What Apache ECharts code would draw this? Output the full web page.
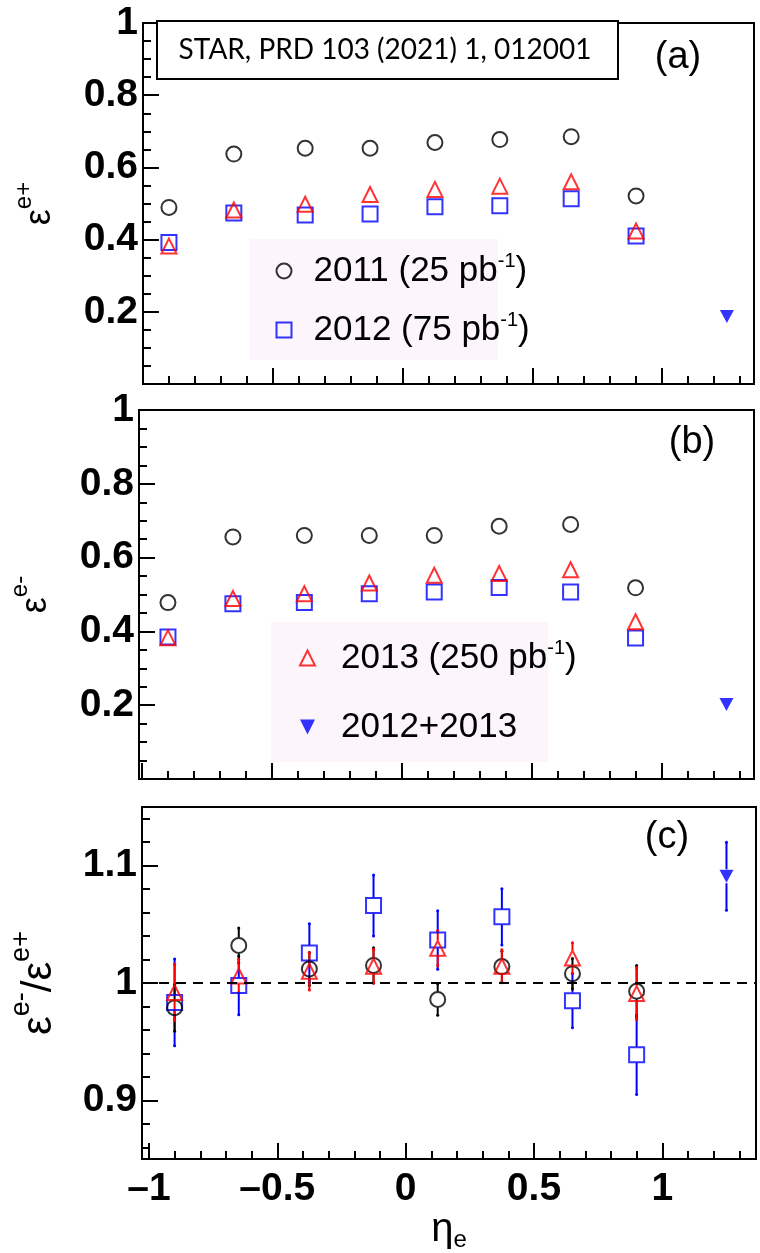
<!DOCTYPE html>
<html>
<head>
<meta charset="utf-8">
<script src="https://cdn.jsdelivr.net/npm/echarts@6/dist/echarts.min.js"></script>
<style>
  html, body { margin: 0; padding: 0; background: #fff; }
  #chart { width: 760px; height: 1253px; }
</style>
</head>
<body>
<div id="chart"></div>
<script>
// Electron pseudorapidity bin centres and the combined forward bin
const etaBins = [-0.9, -0.65, -0.375, -0.125, 0.125, 0.375, 0.65, 0.9];
const etaCombined = 1.25;

// (a) positron efficiency
const effPos2011 = [0.489, 0.637, 0.653, 0.653, 0.669, 0.677, 0.685, 0.521];
const effPos2012 = [0.392, 0.474, 0.468, 0.471, 0.491, 0.494, 0.513, 0.410];
const effPos2013 = [0.382, 0.482, 0.498, 0.525, 0.539, 0.548, 0.560, 0.424];
const effPosCombined = 0.187;

// (b) electron efficiency
const effNeg2011 = [0.478, 0.656, 0.660, 0.660, 0.660, 0.685, 0.690, 0.518];
const effNeg2012 = [0.385, 0.475, 0.478, 0.502, 0.507, 0.519, 0.507, 0.382];
const effNeg2013 = [0.383, 0.489, 0.502, 0.531, 0.552, 0.557, 0.567, 0.426];
const effNegCombined = 0.202;

// (c) ratio e-/e+ with uncertainties
const ratio2011 = [0.979, 1.032, 1.012, 1.015, 0.986, 1.014, 1.008, 0.993];
const ratio2011Err = [0.020, 0.015, 0.014, 0.015, 0.0135, 0.013, 0.013, 0.022];
const ratio2012 = [0.9835, 0.998, 1.0255, 1.066, 1.0367, 1.0564, 0.985, 0.939];
const ratio2012Err = [0.037, 0.025, 0.025, 0.026, 0.025, 0.024, 0.023, 0.034];
const ratio2013 = [0.992, 1.006, 1.010, 1.0143, 1.0297, 1.0143, 1.0213, 0.991];
const ratio2013Err = [0.024, 0.014, 0.016, 0.0145, 0.015, 0.014, 0.013, 0.022];
const ratioCombined = 1.091;
const ratioCombinedErr = 0.029;

// Axis tick labels
const yTicksEff = ['0.2', '0.4', '0.6', '0.8', '1'];
const yTicksRatio = ['0.9', '1', '1.1'];
const xTicks = ['\u20131', '\u20130.5', '0', '0.5', '1'];

// Series names as shown in the legends
const NAME_2011 = '2011 (25 pb-1)';
const NAME_2012 = '2012 (75 pb-1)';
const NAME_2013 = '2013 (250 pb-1)';
const NAME_COMB = '2012+2013';

const FONT = 'Liberation Sans';
const TICK_FONT = 39;
const BLACK = '#000000';
const BLUE = '#0000ff';
const RED = '#ff0000';
const DOWN_TRI = 'path://M0,0 L10,0 L5,10 Z';
const SYM = 15;

const chart = echarts.init(document.getElementById('chart'), null, { renderer: 'canvas' });

function pairs(xs, ys) { return xs.map((x, i) => [x, ys[i]]); }
function triples(xs, ys, es) { return xs.map((x, i) => [x, ys[i], es[i]]); }

function isMultiple(v, step) {
  const r = v / step;
  return Math.abs(r - Math.round(r)) < 1e-6;
}

const hollow = {
  circle: (c) => ({ symbol: 'circle', itemStyle: { color: 'rgba(0,0,0,0)', borderColor: c, borderWidth: 2 } }),
  rect: (c) => ({ symbol: 'rect', itemStyle: { color: 'rgba(0,0,0,0)', borderColor: c, borderWidth: 2 } }),
  triangle: (c) => ({ symbol: 'triangle', itemStyle: { color: 'rgba(0,0,0,0)', borderColor: c, borderWidth: 2 } })
};

function scatter(name, data, style, xi, yi, z) {
  return Object.assign({
    type: 'scatter', name, data, xAxisIndex: xi, yAxisIndex: yi,
    symbolSize: SYM, z: z || 3, silent: true, animation: false
  }, style);
}

function combined(name, value, xi, yi) {
  return {
    type: 'scatter', name, data: [[etaCombined, value]], xAxisIndex: xi, yAxisIndex: yi,
    symbol: DOWN_TRI, symbolSize: [14, 13], itemStyle: { color: BLUE }, z: 5, silent: true, animation: false
  };
}

// Vertical error bars that stop at the marker outline
function errorBars(name, data, color, half, xi, yi) {
  return {
    type: 'custom', name, data, xAxisIndex: xi, yAxisIndex: yi, z: 2, silent: true, animation: false,
    renderItem(params, api) {
      const x = api.value(0), y = api.value(1), e = api.value(2);
      const c = api.coord([x, y]);
      const hi = api.coord([x, y + e]);
      const lo = api.coord([x, y - e]);
      const st = { stroke: color, lineWidth: 2 };
      const kids = [];
      if (c[1] - half > hi[1]) kids.push({ type: 'line', shape: { x1: c[0], y1: hi[1], x2: c[0], y2: c[1] - half }, style: st });
      if (c[1] + half < lo[1]) kids.push({ type: 'line', shape: { x1: c[0], y1: c[1] + half, x2: c[0], y2: lo[1] }, style: st });
      kids.push({ type: 'circle', shape: { cx: c[0], cy: hi[1], r: 1.5 }, style: { fill: color } });
      kids.push({ type: 'circle', shape: { cx: c[0], cy: lo[1], r: 1.5 }, style: { fill: color } });
      return { type: 'group', children: kids };
    }
  };
}

const axisLine = { show: true, onZero: false, lineStyle: { color: BLACK, width: 2 } };
const majorTick = { show: true, inside: true, length: 16, lineStyle: { color: BLACK, width: 2 } };
const tickLabelStyle = { fontFamily: FONT, fontWeight: 'bold', fontSize: TICK_FONT, color: BLACK };

function titleRich(big, small) {
  return {
    g: { fontFamily: FONT, fontSize: big, lineHeight: big + 10, verticalAlign: 'bottom', color: BLACK },
    s: { fontFamily: FONT, fontSize: small, lineHeight: small + 2, verticalAlign: 'top', color: BLACK }
  };
}

function xAxis(grid, min, max, showLabels, extra) {
  return Object.assign({
    type: 'value', gridIndex: grid, min, max, splitNumber: 5, minInterval: 0.5, maxInterval: 0.5,
    axisLine, axisTick: majorTick,
    minorTick: { show: true, splitNumber: 5, length: 8, lineStyle: { color: BLACK, width: 2 } },
    splitLine: { show: false }, minorSplitLine: { show: false },
    axisLabel: Object.assign({
      show: showLabels, margin: 11,
      formatter: (v) => {
        if (!isMultiple(v, 0.5)) return '';
        const i = Math.round((v + 1) / 0.5);
        return xTicks[i] !== undefined ? xTicks[i] : '';
      }
    }, tickLabelStyle)
  }, extra || {});
}

function yAxisEff(grid, title) {
  return {
    type: 'value', gridIndex: grid, min: 0, max: 1, interval: 0.2,
    axisLine, axisTick: majorTick,
    minorTick: { show: true, splitNumber: 4, length: 8, lineStyle: { color: BLACK, width: 2 } },
    splitLine: { show: false },
    axisLabel: Object.assign({
      margin: 5,
      formatter: (v) => {
        const i = Math.round(v / 0.2) - 1;
        return (i >= 0 && isMultiple(v, 0.2)) ? yTicksEff[i] : '';
      }
    }, tickLabelStyle),
    name: title, nameLocation: 'middle', nameRotate: 90, nameGap: 85,
    nameTextStyle: { fontFamily: FONT, color: BLACK, rich: titleRich(36, 24) }
  };
}

const legendText = (pad) => ({
  fontFamily: FONT, fontSize: 35, lineHeight: 40, color: BLACK, padding: [0, 0, 0, pad],
  rich: { sup: { fontFamily: FONT, fontSize: 20, lineHeight: 20, verticalAlign: 'top', color: BLACK } }
});

const option = {
  backgroundColor: '#ffffff',
  animation: false,
  grid: [
    { left: 143, top: 23, width: 611, height: 361, show: true, borderColor: BLACK, borderWidth: 2, backgroundColor: 'transparent' },
    { left: 136, top: 410, width: 618, height: 369, show: true, borderColor: BLACK, borderWidth: 2, backgroundColor: 'transparent' },
    { left: 134, top: 807, width: 622, height: 356, show: true, borderColor: BLACK, borderWidth: 2, backgroundColor: 'transparent' }
  ],
  xAxis: [
    xAxis(0, -1.0, 1.3545, false),
    xAxis(1, -1.0115, 1.356, false),
    xAxis(2, -1.027, 1.365, true, {
      name: '{g|\u03b7}{sub|e}', nameLocation: 'middle', nameGap: 46,
      nameTextStyle: {
        fontFamily: FONT, color: BLACK,
        rich: {
          g: { fontFamily: FONT, fontSize: 40, lineHeight: 42, verticalAlign: 'top', color: BLACK },
          sub: { fontFamily: FONT, fontSize: 24, lineHeight: 22, verticalAlign: 'bottom', color: BLACK }
        }
      }
    })
  ],
  yAxis: [
    yAxisEff(0, '{g|\u03b5}{s|e+}'),
    yAxisEff(1, '{g|\u03b5}{s|e-}'),
    {
      type: 'value', gridIndex: 2, min: 0.85, max: 1.15, minInterval: 0.1, maxInterval: 0.1, splitNumber: 3,
      axisLine, axisTick: majorTick,
      minorTick: { show: true, splitNumber: 5, length: 8, lineStyle: { color: BLACK, width: 2 } },
      splitLine: { show: false },
      axisLabel: Object.assign({
        margin: 5,
        formatter: (v) => {
          if (!isMultiple(v, 0.1)) return '';
          const i = Math.round((v - 0.9) / 0.1);
          return yTicksRatio[i] !== undefined ? yTicksRatio[i] : '';
        }
      }, tickLabelStyle),
      name: '{g|\u03b5}{s|e-}{g|/}{g|\u03b5}{s|e+}', nameLocation: 'middle', nameRotate: 90, nameGap: 82,
      nameTextStyle: { fontFamily: FONT, color: BLACK, rich: titleRich(42, 27) }
    }
  ],
  legend: [
    {
      orient: 'vertical', left: 270.5, top: 246, padding: 5, itemWidth: 15, itemHeight: 15, itemGap: 19,
      selectedMode: false, backgroundColor: 'transparent',
      data: [
        { name: NAME_2011, icon: 'circle', itemStyle: { color: 'rgba(0,0,0,0)', borderColor: BLACK, borderWidth: 2 } },
        { name: NAME_2012, icon: 'rect', itemStyle: { color: 'rgba(0,0,0,0)', borderColor: BLUE, borderWidth: 2 } }
      ],
      formatter: (n) => n.replace('pb-1', 'pb{sup|-1}'),
      textStyle: legendText(17)
    },
    {
      orient: 'vertical', left: 294, top: 633, padding: 5, itemWidth: 15, itemHeight: 15, itemGap: 29,
      selectedMode: false, backgroundColor: 'transparent',
      data: [
        { name: NAME_2013, icon: 'triangle', itemStyle: { color: 'rgba(0,0,0,0)', borderColor: RED, borderWidth: 2 } },
        { name: NAME_COMB, icon: DOWN_TRI, itemStyle: { color: BLUE, borderWidth: 0 } }
      ],
      formatter: (n) => n.replace('pb-1', 'pb{sup|-1}'),
      textStyle: legendText(21)
    }
  ],
  graphic: [
    // legend panels
    { type: 'rect', z: 0, shape: { x: 250, y: 239, width: 248, height: 121 }, style: { fill: '#fcf6fc' } },
    { type: 'rect', z: 0, shape: { x: 271, y: 622, width: 277, height: 140 }, style: { fill: '#fcf6fc' } },
    // publication box
    { type: 'rect', z: 10, shape: { x: 157, y: 21, width: 461, height: 58 }, style: { fill: '#ffffff', stroke: BLACK, lineWidth: 2 } },
    { type: 'text', z: 11, x: 385, y: 50, style: { text: 'STAR, PRD 103 (2021) 1, 012001', fontFamily: 'Lato', fontSize: 28, fill: BLACK, align: 'center', verticalAlign: 'middle' } },
    // panel tags
    { type: 'text', z: 11, x: 678, y: 58, style: { text: '(a)', fontFamily: FONT, fontSize: 38, fill: BLACK, align: 'center', verticalAlign: 'middle' } },
    { type: 'text', z: 11, x: 692, y: 443, style: { text: '(b)', fontFamily: FONT, fontSize: 38, fill: BLACK, align: 'center', verticalAlign: 'middle' } },
    { type: 'text', z: 11, x: 667, y: 838, style: { text: '(c)', fontFamily: FONT, fontSize: 38, fill: BLACK, align: 'center', verticalAlign: 'middle' } }
  ],
  series: [
    // (a)
    scatter(NAME_2012, pairs(etaBins, effPos2012), hollow.rect(BLUE), 0, 0, 3),
    scatter(NAME_2011, pairs(etaBins, effPos2011), hollow.circle(BLACK), 0, 0, 3),
    scatter(NAME_2013, pairs(etaBins, effPos2013), hollow.triangle(RED), 0, 0, 4),
    combined(NAME_COMB, effPosCombined, 0, 0),
    // (b)
    scatter(NAME_2012, pairs(etaBins, effNeg2012), hollow.rect(BLUE), 1, 1, 3),
    scatter(NAME_2011, pairs(etaBins, effNeg2011), hollow.circle(BLACK), 1, 1, 3),
    scatter(NAME_2013, pairs(etaBins, effNeg2013), hollow.triangle(RED), 1, 1, 4),
    combined(NAME_COMB, effNegCombined, 1, 1),
    // (c) uncertainties
    errorBars(NAME_2012 + ' unc', triples(etaBins, ratio2012, ratio2012Err), BLUE, 8, 2, 2),
    errorBars(NAME_2011 + ' unc', triples(etaBins, ratio2011, ratio2011Err), BLACK, 8, 2, 2),
    errorBars(NAME_2013 + ' unc', triples(etaBins, ratio2013, ratio2013Err), RED, 8, 2, 2),
    errorBars(NAME_COMB + ' unc', [[etaCombined, ratioCombined, ratioCombinedErr]], BLUE, 7, 2, 2),
    // (c) ratios
    Object.assign(scatter(NAME_2012, pairs(etaBins, ratio2012), hollow.rect(BLUE), 2, 2, 3), {
      markLine: {
        silent: true, symbol: ['none', 'none'], label: { show: false },
        lineStyle: { color: BLACK, width: 2, type: [10, 7] },
        data: [{ yAxis: 1 }]
      }
    }),
    scatter(NAME_2011, pairs(etaBins, ratio2011), hollow.circle(BLACK), 2, 2, 3),
    scatter(NAME_2013, pairs(etaBins, ratio2013), hollow.triangle(RED), 2, 2, 4),
    combined(NAME_COMB, ratioCombined, 2, 2)
  ]
};

chart.setOption(option);
</script>
</body>
</html>
